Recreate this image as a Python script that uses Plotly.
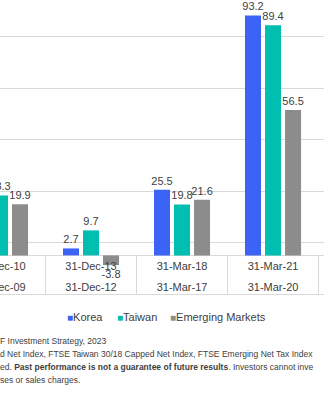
import plotly.graph_objects as go

# ---- data ----
period_end = ["31-Dec-10", "31-Dec-13", "31-Mar-18", "31-Mar-21"]
period_start = ["31-Dec-09", "31-Dec-12", "31-Mar-17", "31-Mar-20"]
korea = [None, 2.7, 25.5, 93.2]      # first Korea bar lies outside the visible crop
taiwan = [23.3, 9.7, 19.8, 89.4]
emerging = [19.9, -3.8, 21.6, 56.5]

series_names = ["Korea", "Taiwan", "Emerging Markets"]
series_values = [korea, taiwan, emerging]
series_colors = ["#3B63F6", "#00BFB0", "#8C8C8C"]

footnote_lines = [
    "F Investment Strategy, 2023",
    "d Net Index, FTSE Taiwan 30/18 Capped Net Index, FTSE Emerging Net Tax Index",
    "ed. <b>Past performance is not a guarantee of future results</b>. Investors cannot inve",
    "ses or sales charges.",
]

# ---- layout constants ----
W, H = 324, 400
MT, MB = 0, 106
PLOT_H = H - MT - MB
TEXT = "#404040"
GRID = "#D9D9D9"
FONT = "Liberation Sans, Arial, sans-serif"

idx = list(range(len(period_end)))
boundaries = [i + 0.5 for i in idx]
x_range = [0, 3.56]
y_range = [-15, 99.2]


def py(px):  # pixel row -> paper y
    return (H - MB - px) / PLOT_H


def pxx(px):  # pixel column -> paper x
    return px / W


fig = go.Figure()
for name, vals, col in zip(series_names, series_values, series_colors):
    fig.add_trace(go.Bar(
        x=idx, y=vals, name=name, marker=dict(color=col, line=dict(width=0)),
        texttemplate="%{y:.1f}", textposition="outside", textangle=0,
        constraintext="none", cliponaxis=False,
        textfont=dict(size=11, color=TEXT, family=FONT),
        showlegend=False,
    ))

# invisible helper traces so the label / divider axes get drawn
for ax in ["x2", "x3"]:
    fig.add_trace(go.Scatter(x=idx, y=[0] * len(idx), xaxis=ax, yaxis="y",
                             mode="none", showlegend=False, hoverinfo="skip"))

fig.update_layout(
    width=W, height=H,
    margin=dict(l=0, r=0, t=MT, b=MB, pad=0, autoexpand=False),
    paper_bgcolor="white", plot_bgcolor="white",
    font=dict(family=FONT, size=11, color=TEXT),
    barmode="group", bargap=0.34, bargroupgap=0.2,
    showlegend=False,
    yaxis=dict(range=y_range, autorange=False, automargin=False,
               tickmode="linear", tick0=5, dtick=20,
               showgrid=True, gridcolor=GRID, gridwidth=1,
               zeroline=True, zerolinecolor=GRID, zerolinewidth=1,
               showticklabels=False, ticks="", showline=False),
    xaxis=dict(range=x_range, autorange=False, automargin=False,
               showgrid=False, zeroline=False,
               showline=True, linecolor=GRID, linewidth=1,
               tickmode="array", tickvals=idx, ticktext=period_start,
               ticks="", ticklabelposition="inside", ticklabeloverflow="allow",
               tickfont=dict(size=11, color=TEXT, family=FONT)),
    xaxis2=dict(overlaying="x", anchor="y", side="bottom",
                range=x_range, autorange=False, automargin=False,
                showgrid=False, zeroline=False, showline=False,
                tickmode="array", tickvals=idx, ticktext=period_end,
                ticks="", ticklabelposition="inside", ticklabeloverflow="allow",
                ticklabelstandoff=19,
                tickfont=dict(size=11, color=TEXT, family=FONT)),
    xaxis3=dict(overlaying="x", anchor="y", side="bottom",
                range=x_range, autorange=False, automargin=False,
                showgrid=False, zeroline=False, showline=False,
                tickmode="array", tickvals=boundaries, ticks="inside",
                ticklen=38, tickwidth=1, tickcolor=GRID, showticklabels=False),
)

# legend (square + label), positioned like the reference
legend_sq_x = [67, 117, 170]
for name, col, sx in zip(series_names, series_colors, legend_sq_x):
    fig.add_annotation(xref="paper", yref="paper", x=pxx(sx), y=py(316.5),
                       xanchor="left", yanchor="middle", showarrow=False,
                       borderpad=0, xshift=-1,
                       text=f'<span style="color:{col};font-size:10px">\u25a0</span>{name}',
                       font=dict(size=11, color=TEXT, family=FONT))

# footnote lines
for k, line in enumerate(footnote_lines):
    fig.add_annotation(xref="paper", yref="paper", x=0, y=py(340.5 + 13.3 * k),
                       xanchor="left", yanchor="middle", align="left",
                       showarrow=False, borderpad=0, xshift=-1,
                       text=line, font=dict(size=8.5, color=TEXT, family=FONT))

fig.write_html("out.html")
